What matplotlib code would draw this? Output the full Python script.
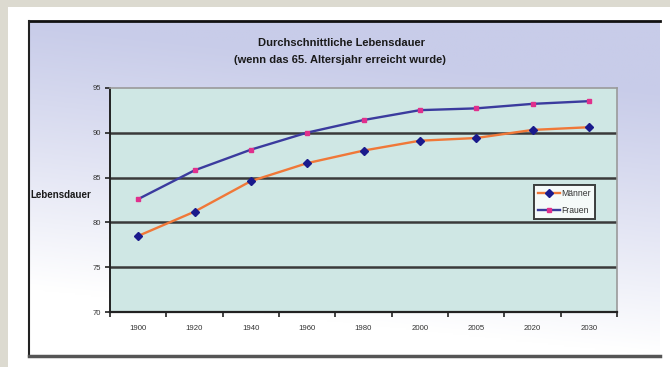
import numpy as np
import matplotlib
matplotlib.use("Agg")
import matplotlib.pyplot as plt
from matplotlib.patches import Rectangle
from matplotlib.lines import Line2D

# Data
jahre = ["1900", "1920", "1940", "1960", "1980", "2000", "2005", "2020", "2030"]
maenner = [78.5, 81.2, 84.6, 86.6, 88.0, 89.1, 89.4, 90.3, 90.6]
frauen = [82.6, 85.8, 88.1, 90.0, 91.4, 92.5, 92.7, 93.2, 93.5]
y_ticks = [70, 75, 80, 85, 90, 95]

W, H = 670, 367
fig = plt.figure(figsize=(W / 100, H / 100), dpi=100, facecolor="white")
plt.rcParams["font.family"] = ["Liberation Sans", "DejaVu Sans"]


def fx(px):
    return px / W


def fy(py):
    return 1 - py / H


# Outer page strips
fig.patches.append(Rectangle((0, 0), fx(8), 1, transform=fig.transFigure,
                             facecolor="#dcdad0", edgecolor="none", zorder=0))
fig.patches.append(Rectangle((0, fy(7)), 1, 1 - fy(7), transform=fig.transFigure,
                             facecolor="#dcdad0", edgecolor="none", zorder=0))

# Chart frame with lavender-to-white gradient
x0, x1, y0, y1 = 29, 660, 21, 356
bg = fig.add_axes([fx(x0), fy(y1), fx(x1 - x0), fy(y0) - fy(y1)], zorder=1)
rows, cols = 200, 200
t = np.linspace(0, 1, rows)[:, None]
s = np.linspace(0, 1, cols)[None, :]
mix = np.clip(1.25 * t - 0.25 * s, 0, 1) ** 1.1
top = np.array([200, 204, 233]) / 255
bot = np.array([255, 255, 255]) / 255
img = top[None, None, :] * (1 - mix[..., None]) + bot[None, None, :] * mix[..., None]
bg.imshow(img, aspect="auto", extent=[0, 1, 0, 1], origin="upper")
bg.set_xlim(0, 1)
bg.set_ylim(0, 1)
bg.axis("off")

fig.lines.append(Line2D([fx(x0), fx(x1)], [fy(y0), fy(y0)], transform=fig.transFigure,
                        color="#111111", lw=2.0, zorder=3))
fig.lines.append(Line2D([fx(x0), fx(x0)], [fy(y0), fy(y1)], transform=fig.transFigure,
                        color="#222222", lw=1.5, zorder=3))
fig.lines.append(Line2D([fx(x0), fx(x1)], [fy(y1), fy(y1)], transform=fig.transFigure,
                        color="#555555", lw=2.5, zorder=3))

# Plot area
px0, px1, py0, py1 = 110, 617, 87.7, 312.3
ax = fig.add_axes([fx(px0), fy(py1), fx(px1 - px0), fy(py0) - fy(py1)], zorder=2)
ax.set_facecolor("#cfe7e4")

x = np.arange(len(jahre))
ax.plot(x, maenner, color="#f07838", lw=1.7, marker="D", markersize=3.8,
        markerfacecolor="#1a1a8c", markeredgecolor="#1a1a8c", label="Männer", zorder=4)
ax.plot(x, frauen, color="#3b3b9e", lw=1.7, marker="s", markersize=2.4,
        markerfacecolor="#e0308c", markeredgecolor="#e0308c", label="Frauen", zorder=4)

ax.set_xlim(-0.5, len(jahre) - 0.5)
ax.set_ylim(70, 95)
ax.set_yticks(y_ticks)
ax.set_yticklabels([str(v) for v in y_ticks], fontsize=5.5, color="#333333")
ax.set_xticks(x)
ax.set_xticklabels(jahre, fontsize=5.6, color="#333333")
ax.tick_params(axis="x", which="major", length=0, pad=9)
ax.set_xticks(np.arange(-0.5, len(jahre)), minor=True)
ax.tick_params(axis="x", which="minor", length=3.5, width=1.2, color="#222222", direction="out")
ax.tick_params(axis="y", length=3.5, width=1.2, color="#222222", pad=3)

for v in [75, 80, 85, 90]:
    ax.axhline(v, color="#3a3a3a", lw=1.8, zorder=2)

ax.spines["left"].set_color("#222222")
ax.spines["left"].set_linewidth(1.4)
ax.spines["bottom"].set_color("#222222")
ax.spines["bottom"].set_linewidth(1.6)
ax.spines["top"].set_color("#9a9a9a")
ax.spines["top"].set_linewidth(1.2)
ax.spines["right"].set_color("#9a9a9a")
ax.spines["right"].set_linewidth(1.2)

leg = ax.legend(loc="upper left", bbox_to_anchor=((534 - px0) / (px1 - px0), 1 - (185 - py0) / (py1 - py0)),
                fontsize=6.2, frameon=True, fancybox=False, handlelength=2.6,
                handletextpad=0.15, borderpad=0.45, labelspacing=1.0, borderaxespad=0,
                markerscale=1.2)
leg.get_frame().set_edgecolor("#111111")
leg.get_frame().set_linewidth(1.4)
leg.get_frame().set_facecolor("white")
for txt in leg.get_texts():
    txt.set_color("#333333")

# Titles and axis label
fig.text(fx(341), fy(43), "Durchschnittliche Lebensdauer", ha="center", va="center",
         fontsize=8, fontweight="bold", color="#1a1a1a", zorder=5)
fig.text(fx(340), fy(60), "(wenn das 65. Altersjahr erreicht wurde)", ha="center", va="center",
         fontsize=8, fontweight="bold", color="#1a1a1a", zorder=5)
fig.text(fx(30), fy(195), "Lebensdauer", ha="left", va="center",
         fontsize=7, fontweight="bold", color="#1a1a1a", zorder=5)

fig.savefig("out.png", dpi=100, facecolor=fig.get_facecolor())
